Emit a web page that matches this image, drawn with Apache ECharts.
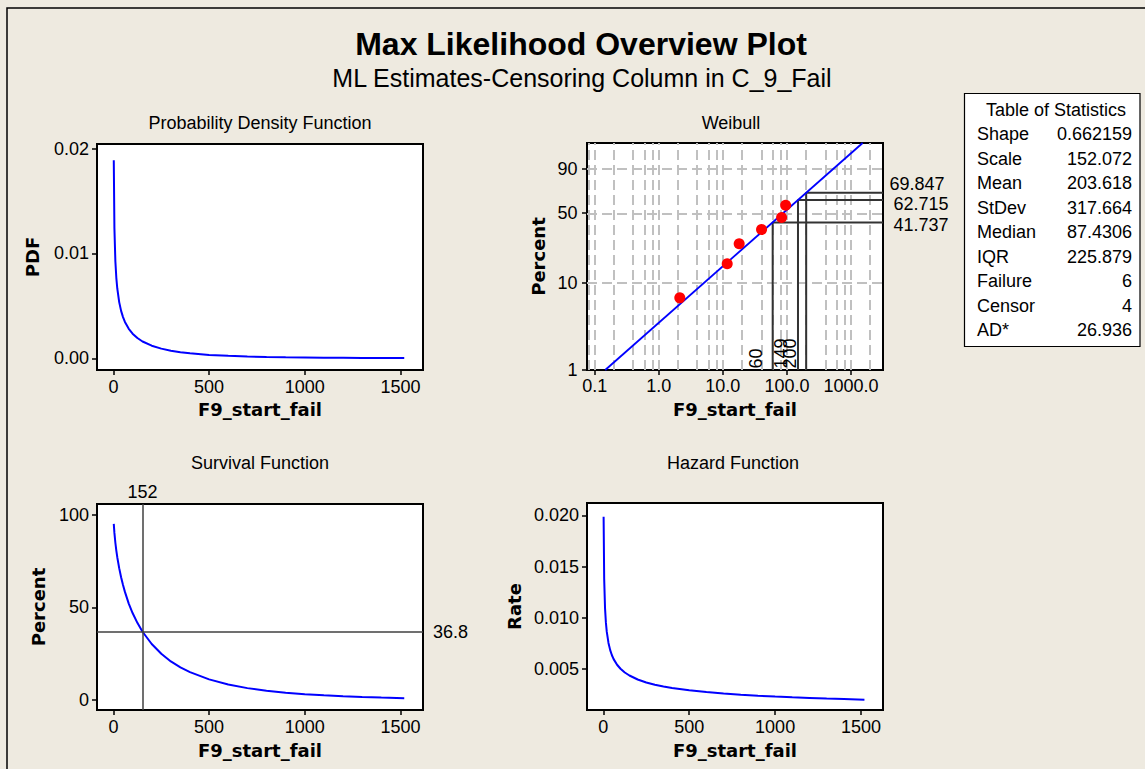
<!DOCTYPE html>
<html>
<head>
<meta charset="utf-8">
<title>Max Likelihood Overview Plot</title>
<script src="https://cdn.jsdelivr.net/npm/echarts@6/dist/echarts.min.js"></script>
<style>
  html, body { margin: 0; padding: 0; background: #EEEAE0; }
  #chart { width: 1145px; height: 769px; }
</style>
</head>
<body>
<div id="chart"></div>
<script>
// ---- Table of statistics ----
const statNames  = ['Shape', 'Scale', 'Mean', 'StDev', 'Median', 'IQR', 'Failure', 'Censor', 'AD*'];
const statValues = ['0.662159', '152.072', '203.618', '317.664', '87.4306', '225.879', '6', '4', '26.936'];

// ---- Fitted curves (time, PDF, survival %, hazard rate) ----
const curveTimes = [1.7, 5, 10, 15, 20, 30, 40, 50, 60, 80,
                    100, 125, 152, 200, 250, 300, 350, 400, 500, 600,
                    700, 800, 900, 1000, 1100, 1200, 1300, 1400, 1520];
const pdfValues = [0.01889, 0.01244, 0.00926, 0.00768, 0.00666, 0.00536, 0.00452, 0.00393, 0.00347, 0.00281,
                   0.00235, 0.00193, 0.00160, 0.00120, 0.00092, 0.00072, 0.00058, 0.00047, 0.00032, 0.00023,
                   0.00017, 0.00012, 0.00009, 0.00007, 0.00005, 0.00004, 0.00003, 0.00003, 0.00002];
const survivalValues = [95.0, 90.1, 84.8, 80.6, 77.0, 71.1, 66.2, 62.0, 58.3, 52.0,
                        46.9, 41.6, 36.8, 30.2, 24.9, 20.8, 17.6, 15.0, 11.1, 8.4,
                        6.4, 5.0, 3.9, 3.1, 2.5, 2.0, 1.6, 1.3, 1.0];
const hazardValues = [0.01987, 0.01380, 0.01092, 0.00952, 0.00864, 0.00754, 0.00684, 0.00634, 0.00596, 0.00541,
                      0.00502, 0.00465, 0.00436, 0.00397, 0.00368, 0.00346, 0.00329, 0.00314, 0.00291, 0.00274,
                      0.00260, 0.00249, 0.00239, 0.00230, 0.00223, 0.00217, 0.00211, 0.00206, 0.00200];

// ---- Weibull probability plot ----
const failTimes    = [2.13, 11.7, 18.0, 40.2, 82.6, 95.6];
const failPercents = [6.8, 16.2, 26.2, 35.9, 46.0, 57.7];
const fitTimes     = [0.146, 1520];
const fitPercents  = [1, 99];
const refTimes     = [60, 149, 200];
const refPercents  = [41.737, 62.715, 69.847];
const timeTicks      = [0.1, 1, 10, 100, 1000];
const timeTickLabels = ['0.1', '1.0', '10.0', '100.0', '1000.0'];
const percentTicks   = [1, 10, 50, 90];
const timeGrid    = [0.08, 0.1, 0.2, 0.4, 0.6, 0.8, 1, 2, 4, 6, 8, 10, 20, 40, 60, 80, 100, 200, 400, 600, 800, 1000, 2000];
const percentGrid = [10, 50, 90];

// ---- Survival reference ----
const scaleMark = 152;
const charLifePercent = 36.8;

// ---- Linear axis ticks ----
const timeAxisTicks = [0, 500, 1000, 1500];
const pdfTicks      = [0, 0.01, 0.02];
const survivalTicks = [0, 50, 100];
const hazardTicks   = [0.005, 0.010, 0.015, 0.020];

// Weibull paper: log10 time on x, ln(-ln(1-p)) on y
const lg = t => Math.log10(t);
const wb = p => Math.log(-Math.log(1 - p / 100));
const wbXMin = -1.12, wbXMax = 3.5;
const wbYMin = wb(1), wbYMax = wb(99);

const FONT = '"Liberation Sans", Arial, sans-serif';
const INK = '#000';
const BLUE = '#0000FF';

const tickLabel = { fontFamily: FONT, fontSize: 18, color: INK, margin: 8 };
const tickStyle = { length: 5, lineStyle: { color: INK, width: 1.5 } };
const nameStyle = { fontFamily: '"DejaVu Sans", Verdana, sans-serif', fontSize: 18, fontWeight: 'bold', color: INK };

function linAxis(gridIndex, min, max, ticks, fmt, name, gap, labelExtra) {
  return {
    gridIndex, type: 'value', min, max,
    name, nameLocation: 'middle', nameGap: gap, nameTextStyle: nameStyle,
    axisLine: { show: false, onZero: false },
    splitLine: { show: false },
    axisTick: Object.assign({ show: true, customValues: ticks }, tickStyle),
    axisLabel: Object.assign({ customValues: ticks, formatter: fmt }, tickLabel, labelExtra || {})
  };
}

const findLabel = (vals, labels, v) => {
  for (let i = 0; i < vals.length; i++) if (Math.abs(vals[i] - v) < 1e-6) return labels[i];
  return '';
};
const timeTickPos = timeTicks.map(lg);
const percentTickPos = percentTicks.map(wb);

const xAxes = [
  linAxis(0, -86, 1618, timeAxisTicks, v => String(v), 'F9_start_fail', 30),
  linAxis(1, wbXMin, wbXMax, timeTickPos, v => findLabel(timeTickPos, timeTickLabels, v),
          'F9_start_fail', 30, { margin: 7 }),
  linAxis(2, -86, 1618, timeAxisTicks, v => String(v), 'F9_start_fail', 31),
  linAxis(3, -95, 1628, timeAxisTicks, v => String(v), 'F9_start_fail', 31)
];

const yAxes = [
  linAxis(0, -0.00112, 0.02045, pdfTicks, v => v.toFixed(2), 'PDF', 56),
  linAxis(1, wbYMin, wbYMax, percentTickPos, v => findLabel(percentTickPos, percentTicks.map(String), v),
          'Percent', 40, { margin: 9.5 }),
  linAxis(2, -5.4, 105.7, survivalTicks, v => String(v), 'Percent', 50),
  linAxis(3, 0.00099, 0.02121, hazardTicks, v => v.toFixed(3), 'Rate', 64)
];

const gridBase = { show: true, backgroundColor: '#FFFFFF', borderColor: INK, borderWidth: 2, containLabel: false };
const grids = [
  Object.assign({ left: 97,  top: 144, width: 326, height: 226 }, gridBase),
  Object.assign({ left: 587, top: 143, width: 296, height: 227 }, gridBase),
  Object.assign({ left: 97,  top: 504, width: 326, height: 206 }, gridBase),
  Object.assign({ left: 587, top: 503, width: 296, height: 207 }, gridBase)
];

const curveLine = (idx, values) => ({
  type: 'line', xAxisIndex: idx, yAxisIndex: idx, z: 3,
  data: curveTimes.map((t, i) => [t, values[i]]),
  showSymbol: false, symbol: 'none', smooth: false, silent: true,
  lineStyle: { color: BLUE, width: 2 }
});

// Weibull reference polylines: up from the axis to the fit, then across to the right edge
const refSeries = refTimes.map((t, i) => ({
  type: 'line', xAxisIndex: 1, yAxisIndex: 1, z: 4, silent: true,
  showSymbol: false, symbol: 'none',
  data: [[lg(t), wbYMin], [lg(t), wb(refPercents[i])], [wbXMax, wb(refPercents[i])]],
  lineStyle: { color: '#333333', width: 2 }
}));

const rightLabelOffsets = [[10, 3], [10, 4], [6, -9]];
const hiddenPoint = { color: 'rgba(0,0,0,0)', borderWidth: 0, opacity: 1 };

const series = [
  curveLine(0, pdfValues),
  // Weibull dashed grid
  {
    type: 'line', xAxisIndex: 1, yAxisIndex: 1, z: 1, data: [], silent: true,
    markLine: {
      z: 1, silent: true, animation: false, symbol: ['none', 'none'],
      label: { show: false },
      lineStyle: { color: '#C0C0C0', width: 2, type: [10, 5] },
      data: timeGrid.map(t => ({ xAxis: lg(t) })).concat(percentGrid.map(p => ({ yAxis: wb(p) })))
    }
  },
  ...refSeries,
  {
    type: 'line', xAxisIndex: 1, yAxisIndex: 1, z: 5, silent: true,
    showSymbol: false, symbol: 'none',
    data: fitTimes.map((t, i) => [lg(t), wb(fitPercents[i])]),
    lineStyle: { color: BLUE, width: 1.8 }
  },
  {
    type: 'scatter', xAxisIndex: 1, yAxisIndex: 1, z: 6, silent: true,
    symbol: 'circle', symbolSize: 11,
    itemStyle: { color: '#FF0000', opacity: 1 },
    data: failTimes.map((t, i) => [lg(t), wb(failPercents[i])])
  },
  // time labels along the bottom of the Weibull plot
  {
    type: 'scatter', xAxisIndex: 1, yAxisIndex: 1, z: 7, silent: true,
    symbol: 'circle', symbolSize: 1, itemStyle: hiddenPoint,
    data: refTimes.map(t => [lg(t), wbYMin]),
    label: {
      show: true, position: [-7, -1], rotate: 90, align: 'left', verticalAlign: 'bottom',
      fontFamily: FONT, fontSize: 18, color: INK,
      formatter: p => String(refTimes[p.dataIndex])
    },
    labelLayout: { hideOverlap: false }
  },
  // percent labels to the right of the Weibull plot
  {
    type: 'scatter', xAxisIndex: 1, yAxisIndex: 1, z: 7, silent: true,
    symbol: 'circle', symbolSize: 1, itemStyle: hiddenPoint,
    data: refPercents.map((p, i) => ({ value: [wbXMax, wb(p)], label: { offset: rightLabelOffsets[i] } })),
    label: {
      show: true, position: 'right', distance: 0,
      fontFamily: FONT, fontSize: 18, color: INK,
      formatter: p => refPercents[p.dataIndex].toFixed(3)
    }
  },
  Object.assign(curveLine(2, survivalValues), {
    markLine: {
      silent: true, animation: false, symbol: ['none', 'none'],
      lineStyle: { color: '#404040', width: 1.5, type: 'solid' },
      label: { show: true, fontFamily: FONT, fontSize: 18, color: INK, formatter: p => String(p.value) },
      data: [
        { xAxis: scaleMark, label: { position: 'end', distance: 3 } },
        { yAxis: charLifePercent, label: { position: 'end', distance: 10 } }
      ]
    }
  }),
  curveLine(3, hazardValues)
];

const titleText = (text, x, y, size, weight) => ({
  text, left: x, top: y, padding: 0, textAlign: 'center', textVerticalAlign: 'middle',
  textStyle: { fontFamily: FONT, fontSize: size, fontWeight: weight, color: INK }
});

const graphic = [
  { type: 'rect', silent: true, z: 100,
    shape: { x: 7, y: 8, width: 1400, height: 1000 },
    style: { fill: 'none', stroke: INK, lineWidth: 1.5 } },
  { type: 'rect', silent: true,
    shape: { x: 964.5, y: 93.5, width: 175.5, height: 253 },
    style: { fill: '#FFFFFF', stroke: INK, lineWidth: 1.2 } },
  { type: 'text', silent: true, x: 1056, y: 110,
    style: { text: 'Table of Statistics', fontFamily: FONT, fontSize: 18, fill: INK, align: 'center', verticalAlign: 'middle' } }
];
statNames.forEach((n, i) => {
  const y = 134 + i * 24.5;
  graphic.push({ type: 'text', silent: true, x: 977, y,
    style: { text: n, fontFamily: FONT, fontSize: 18, fill: INK, align: 'left', verticalAlign: 'middle' } });
  graphic.push({ type: 'text', silent: true, x: 1132, y,
    style: { text: statValues[i], fontFamily: FONT, fontSize: 18, fill: INK, align: 'right', verticalAlign: 'middle' } });
});

const chart = echarts.init(document.getElementById('chart'), null, { renderer: 'svg', width: 1145, height: 769 });
chart.setOption({
  animation: false,
  backgroundColor: '#EEEAE0',
  title: [
    titleText('Max Likelihood Overview Plot', 581, 44, 32, 'bold'),
    titleText('ML Estimates-Censoring Column in C_9_Fail', 582, 78, 25, 'normal'),
    titleText('Probability Density Function', 260, 123, 18, 'normal'),
    titleText('Weibull', 731, 123, 18, 'normal'),
    titleText('Survival Function', 260, 463, 18, 'normal'),
    titleText('Hazard Function', 733, 463, 18, 'normal')
  ],
  grid: grids,
  xAxis: xAxes,
  yAxis: yAxes,
  series,
  graphic
});
</script>
</body>
</html>
